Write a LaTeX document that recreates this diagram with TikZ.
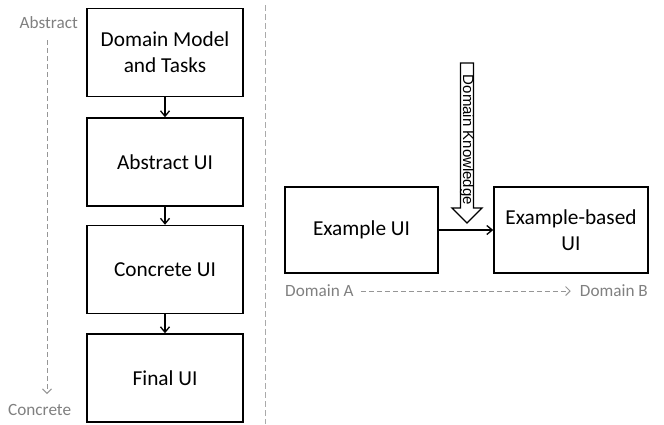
\documentclass[tikz,border=0pt]{standalone}
\usepackage{fontspec}
\setmainfont{Carlito}
\newfontfamily\arialfont{Liberation Sans}
\usetikzlibrary{arrows.meta}
\definecolor{labelgray}{RGB}{128,128,128}
\definecolor{guidegray}{RGB}{150,150,150}
\definecolor{splitgray}{RGB}{170,170,170}
\tikzset{
  stagebox/.style={draw=black, line width=1.4pt, fill=white, minimum width=156pt,
    minimum height=88pt, align=center, font=\fontsize{21.3}{26}\selectfont, inner sep=2pt},
  examplebox/.style={stagebox, minimum width=154pt, minimum height=86pt},
  flow/.style={draw=black, line width=1.3pt, -{Straight Barb[length=5.5pt,width=9pt,line width=1.3pt]}},
  graylabel/.style={text=labelgray, font=\fontsize{17.2}{20}\selectfont, inner sep=0pt},
  grayarrow/.style={draw=guidegray, line width=1pt, dash pattern=on 5pt off 3pt,
    -{Straight Barb[length=4.5pt,width=9pt,line width=1pt]}},
}
\begin{document}
\begin{tikzpicture}[x=1pt, y=-1pt]
\useasboundingbox (0,0) rectangle (664,424);

% separator between the two halves
\draw[splitgray, line width=1pt, dash pattern=on 6pt off 3pt] (265,5) -- (265,424);

% abstraction axis
\node[graylabel, anchor=east] (abs) at (78,23) {Abstract};
\node[graylabel, anchor=west] (con) at (8,410) {Concrete};
\coordinate (axtop) at (47,40);
\coordinate (axbot) at (47,394);
\draw[grayarrow] (axtop) -- (axbot);

% model-based chain
\node[stagebox] (b1) at (165,52.5) {Domain Model\\and Tasks};
\node[stagebox] (b2) at (165,162) {Abstract UI};
\node[stagebox] (b3) at (165,269.5) {Concrete UI};
\node[stagebox] (b4) at (165,378) {Final UI};
\draw[flow] (b1) -- (b2);
\draw[flow] (b2) -- (b3);
\draw[flow] (b3) -- (b4);

% example-based transfer
\node[examplebox, minimum width=153pt] (ex) at (361.5,230) {Example UI};
\node[examplebox] (eb) at (571,230) {Example-based\\UI};
\draw[flow] (ex) -- (eb);

% domain knowledge block arrow
\draw[line width=1.3pt, fill=white]
  (460.5,63) -- (473.5,63) -- (473.5,208) -- (482,208) -- (467,223)
  -- (452,208) -- (460.5,208) -- cycle;
\node[rotate=-90, font=\arialfont\fontsize{15}{17}\selectfont, inner sep=0pt] (dk) at (467,140) {Domain Knowledge};

% domain labels
\node[graylabel, anchor=west] (da) at (285,291) {Domain A};
\node[graylabel, anchor=east] (db) at (648,291) {Domain B};
\coordinate (dastart) at ([xshift=7pt]da.east);
\coordinate (dbend) at ([xshift=-9pt]db.west);
\draw[grayarrow] (dastart) -- (dbend);
\end{tikzpicture}
\end{document}
